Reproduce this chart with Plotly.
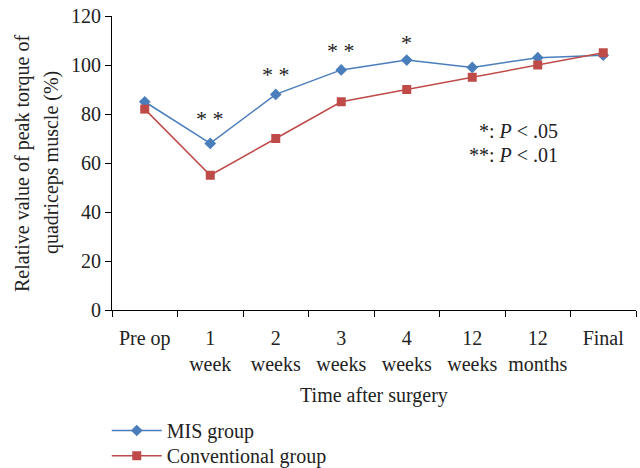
import plotly.graph_objects as go

categories = ["Pre op", "1<br>week", "2<br>weeks", "3<br>weeks", "4<br>weeks", "12<br>weeks", "12<br>months", "Final"]
mis_values = [85, 68, 88, 98, 102, 99, 103, 104]
conv_values = [82, 55, 70, 85, 90, 95, 100, 105]
sig_labels = ["* *", "* *", "* *", "*"]
sig_positions = [1, 2, 3, 4]
sig_heights = [78, 96, 106, 109]
y_title_lines = ["Relative value of peak torque of", "quadriceps muscle (%)"]

FONT = "Liberation Serif"
BLUE = "#4a7ebb"
RED = "#be4b48"
FS = 20

fig = go.Figure()
fig.add_trace(go.Scatter(
    x=categories, y=mis_values, mode="lines+markers", name="MIS group",
    line=dict(color=BLUE, width=1.5),
    marker=dict(symbol="diamond", size=9, color=BLUE),
    legend="legend",
))
fig.add_trace(go.Scatter(
    x=categories, y=conv_values, mode="lines+markers", name="Conventional group",
    line=dict(color=RED, width=1.5),
    marker=dict(symbol="square", size=9, color=RED),
    legend="legend2",
))

for lab, xi, yh in zip(sig_labels, sig_positions, sig_heights):
    fig.add_annotation(x=categories[xi], y=yh, text=lab, showarrow=False,
                       font=dict(family=FONT, size=22, color="#222"))

fig.add_annotation(xref="paper", yref="paper", x=0.855, y=0.609, xanchor="right",
                   text="*: <i>P</i> < .05", showarrow=False,
                   font=dict(family=FONT, size=FS, color="#222"))
fig.add_annotation(xref="paper", yref="paper", x=0.855, y=0.527, xanchor="right",
                   text="**: <i>P</i> < .01", showarrow=False,
                   font=dict(family=FONT, size=FS, color="#222"))

for txt, xp in zip(y_title_lines, [-0.1718, -0.1164]):
    fig.add_annotation(xref="paper", yref="paper", x=xp, y=0.5, xanchor="center", yanchor="middle",
                       text=txt, textangle=-90, showarrow=False,
                       font=dict(family=FONT, size=FS, color="#222"))

legend_style = dict(x=-0.01, xanchor="left", yanchor="top",
                    font=dict(family=FONT, size=FS, color="#222"),
                    bgcolor="rgba(0,0,0,0)", itemwidth=50)

fig.update_layout(
    width=640, height=468,
    margin=dict(l=112, r=4, t=16, b=158, autoexpand=False),
    paper_bgcolor="white", plot_bgcolor="white",
    font=dict(family=FONT, size=FS, color="#222"),
    showlegend=True,
    legend=dict(y=-0.3435, **legend_style),
    legend2=dict(y=-0.429, **legend_style),
    xaxis=dict(showline=True, linecolor="black", linewidth=1, ticks="outside",
               tickson="boundaries", ticklen=6, tickcolor="black", tickangle=0,
               ticklabelstandoff=10,
               range=[-0.5, 7.5], showgrid=False, automargin=False,
               title=dict(text="Time after surgery", font=dict(family=FONT, size=FS), standoff=13)),
    yaxis=dict(showline=True, linecolor="black", linewidth=1, ticks="outside",
               ticklen=6, tickcolor="black", range=[0, 120], dtick=20,
               showgrid=False, zeroline=False, automargin=False),
)

fig.write_html("out.html", config={"displayModeBar": False},
               post_script="document.body.style.margin='0';document.body.style.overflow='hidden';")
